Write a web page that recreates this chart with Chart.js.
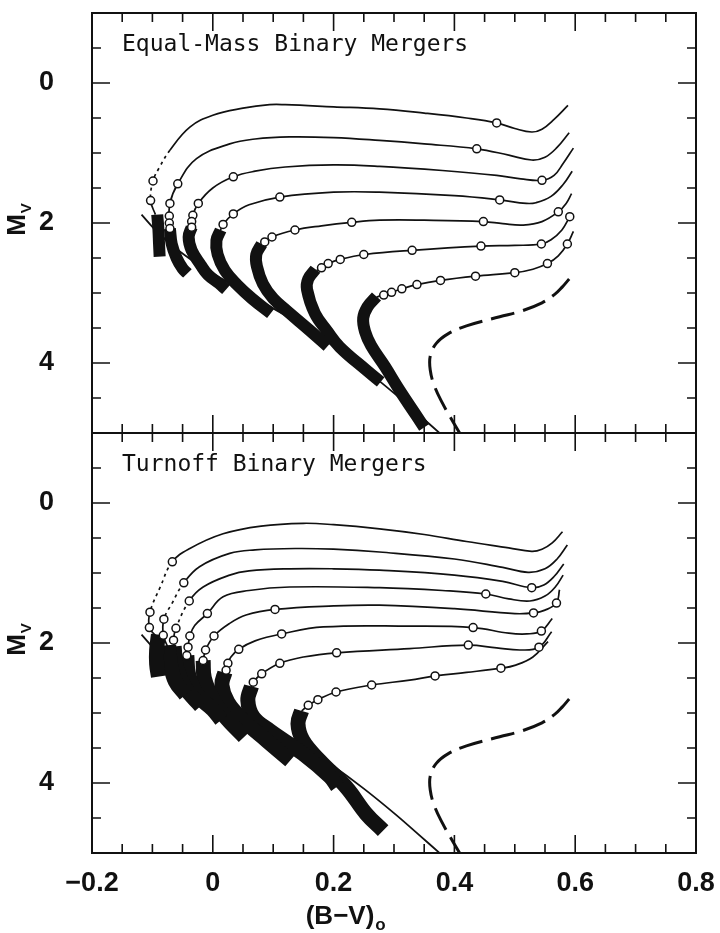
<!DOCTYPE html>
<html>
<head>
<meta charset="utf-8">
<script src="https://cdn.jsdelivr.net/npm/chart.js@4.4.0/dist/chart.umd.min.js"></script>
<style>
  html, body { margin: 0; padding: 0; background: #fff; }
  #wrap { position: relative; width: 720px; height: 933px; }
  canvas { position: absolute; left: 0; width: 720px; }
  #top { top: 0; height: 443px; }
  #bot { top: 423px; height: 510px; }
</style>
</head>
<body>
<div id="wrap">
  <canvas id="top" width="720" height="443"></canvas>
  <canvas id="bot" width="720" height="510"></canvas>
</div>
<script>
// axis ticks
const xTickValues = [-0.2, 0, 0.2, 0.4, 0.6, 0.8];
const yTickValues = [0, 2, 4];
const X_MINOR = 0.05;
const Y_MINOR = 0.5;

// [B-V, Mv] pairs
const isochrone = [[-0.118,1.88],[-0.095,2.1],[-0.07,2.3],[-0.04,2.5],[0.0,2.72],[0.05,2.97],[0.1,3.22],[0.15,3.47],[0.2,3.76],[0.25,4.08],[0.3,4.43],[0.34,4.73],[0.378,5.02]];
const turnoff = [[0.590,2.80],[0.578,2.92],[0.566,3.02],[0.545,3.14],[0.51,3.26],[0.475,3.34],[0.42,3.47],[0.39,3.58],[0.37,3.72],[0.36,3.9],[0.36,4.1],[0.367,4.33],[0.38,4.57],[0.395,4.8],[0.41,5.02]];

// equal-mass mergers: thin tracks, plotted models, dense (thick) parts
const eqLines = [
  [[0.588,0.32],[0.565,0.52],[0.545,0.66],[0.528,0.70],[0.50,0.65],[0.47,0.57],[0.42,0.50],[0.35,0.43],[0.276,0.37],[0.2,0.34],[0.12,0.31],[0.094,0.31],[0.05,0.36],[0.0,0.46],[-0.038,0.63],[-0.071,0.96],[-0.088,1.2],[-0.099,1.40],[-0.103,1.68],[-0.095,1.88]],
  [[0.590,0.71],[0.57,0.92],[0.55,1.06],[0.528,1.10],[0.49,1.03],[0.437,0.94],[0.35,0.87],[0.276,0.82],[0.2,0.78],[0.127,0.77],[0.07,0.8],[0.028,0.87],[-0.027,1.08],[-0.058,1.44],[-0.071,1.72],[-0.072,2.0],[-0.07,2.1]],
  [[0.597,0.93],[0.58,1.15],[0.565,1.32],[0.545,1.39],[0.51,1.37],[0.47,1.32],[0.38,1.25],[0.276,1.19],[0.2,1.17],[0.12,1.2],[0.07,1.26],[0.034,1.34],[0.0,1.5],[-0.024,1.72],[-0.033,1.89],[-0.035,2.08]],
  [[0.595,1.26],[0.58,1.45],[0.56,1.62],[0.535,1.71],[0.519,1.72],[0.475,1.67],[0.4,1.61],[0.276,1.56],[0.2,1.56],[0.111,1.63],[0.06,1.74],[0.034,1.87],[0.017,2.02],[0.012,2.12]],
  [[0.594,1.58],[0.585,1.72],[0.572,1.84],[0.545,1.98],[0.514,2.03],[0.48,2.01],[0.448,1.98],[0.35,1.96],[0.276,1.96],[0.23,1.99],[0.18,2.04],[0.136,2.10],[0.098,2.20],[0.083,2.29]],
  [[0.591,1.91],[0.578,2.1],[0.56,2.24],[0.544,2.30],[0.5,2.32],[0.444,2.33],[0.33,2.39],[0.252,2.45],[0.211,2.52],[0.191,2.58],[0.18,2.64],[0.172,2.68]],
  [[0.597,2.12],[0.587,2.30],[0.572,2.47],[0.554,2.58],[0.53,2.66],[0.5,2.71],[0.435,2.76],[0.377,2.82],[0.338,2.88],[0.313,2.94],[0.296,2.99],[0.281,3.03],[0.271,3.06]]
];
// sparsely sampled stretches (segment start indices), drawn dotted
const eqSparse = [[15, 16, 17], [], [], [], [], [], []];
const eqCircles = [
  [[0.47,0.57],[-0.099,1.40],[-0.103,1.68]],
  [[0.437,0.94],[-0.058,1.44],[-0.071,1.72],[-0.072,1.90],[-0.072,2.0],[-0.071,2.08]],
  [[0.545,1.39],[0.034,1.34],[-0.024,1.72],[-0.033,1.89],[-0.035,1.98],[-0.035,2.06]],
  [[0.475,1.67],[0.111,1.63],[0.034,1.87],[0.017,2.02]],
  [[0.572,1.84],[0.448,1.98],[0.230,1.99],[0.136,2.10],[0.098,2.20],[0.086,2.27]],
  [[0.591,1.91],[0.544,2.30],[0.444,2.33],[0.33,2.39],[0.25,2.45],[0.211,2.52],[0.191,2.58],[0.18,2.64]],
  [[0.587,2.30],[0.554,2.58],[0.5,2.71],[0.435,2.76],[0.377,2.82],[0.338,2.88],[0.313,2.94],[0.296,2.99],[0.283,3.03]]
];
const eqThick = [
  [[-0.092,1.88],[-0.09,2.1],[-0.089,2.3],[-0.088,2.48]],
  [[-0.071,2.08],[-0.068,2.3],[-0.06,2.5],[-0.05,2.65],[-0.042,2.72]],
  [[-0.035,2.06],[-0.04,2.2],[-0.035,2.39],[-0.02,2.6],[-0.008,2.74],[0.01,2.86],[0.022,2.95]],
  [[0.013,2.1],[0.006,2.25],[0.008,2.45],[0.02,2.68],[0.04,2.88],[0.065,3.08],[0.096,3.29]],
  [[0.081,2.3],[0.072,2.45],[0.073,2.62],[0.083,2.87],[0.1,3.08],[0.122,3.25],[0.16,3.53],[0.19,3.76]],
  [[0.17,2.66],[0.158,2.8],[0.156,2.95],[0.169,3.29],[0.19,3.55],[0.21,3.77],[0.254,4.1],[0.278,4.27]],
  [[0.271,3.05],[0.256,3.2],[0.249,3.36],[0.252,3.55],[0.262,3.75],[0.285,4.05],[0.31,4.4],[0.337,4.75],[0.35,4.92]]
];

// turnoff mergers
const toLines = [
  [[0.579,0.41],[0.562,0.57],[0.545,0.66],[0.528,0.69],[0.49,0.64],[0.42,0.55],[0.35,0.45],[0.276,0.37],[0.2,0.31],[0.15,0.29],[0.08,0.33],[0.017,0.44],[-0.038,0.65],[-0.067,0.84],[-0.087,1.2],[-0.104,1.56],[-0.105,1.78],[-0.094,1.9]],
  [[0.587,0.60],[0.57,0.8],[0.55,0.94],[0.522,0.99],[0.48,0.92],[0.4,0.8],[0.276,0.70],[0.2,0.66],[0.139,0.65],[0.07,0.67],[0.028,0.72],[-0.022,0.91],[-0.048,1.14],[-0.068,1.44],[-0.081,1.66],[-0.082,1.89],[-0.075,2.05]],
  [[0.581,0.87],[0.565,1.05],[0.548,1.17],[0.528,1.21],[0.48,1.12],[0.4,1.03],[0.276,0.96],[0.2,0.94],[0.127,0.94],[0.06,0.97],[0.028,1.03],[-0.016,1.2],[-0.039,1.40],[-0.061,1.79],[-0.065,1.96],[-0.063,2.08]],
  [[0.58,1.03],[0.567,1.2],[0.55,1.33],[0.525,1.4],[0.49,1.37],[0.452,1.30],[0.38,1.25],[0.276,1.21],[0.127,1.2],[0.06,1.25],[0.017,1.34],[-0.009,1.58],[-0.03,1.75],[-0.038,1.90],[-0.041,2.06],[-0.043,2.18]],
  [[0.574,1.24],[0.569,1.43],[0.55,1.53],[0.531,1.57],[0.5,1.58],[0.4,1.51],[0.276,1.46],[0.2,1.47],[0.103,1.52],[0.055,1.6],[0.028,1.72],[0.002,1.90],[-0.012,2.10],[-0.016,2.25]],
  [[0.562,1.65],[0.544,1.83],[0.52,1.87],[0.49,1.86],[0.431,1.78],[0.326,1.76],[0.183,1.77],[0.114,1.87],[0.07,1.97],[0.043,2.09],[0.03,2.2],[0.025,2.29],[0.022,2.39],[0.02,2.45]],
  [[0.561,1.84],[0.54,2.06],[0.51,2.1],[0.47,2.07],[0.423,2.03],[0.326,2.08],[0.205,2.14],[0.15,2.2],[0.111,2.29],[0.081,2.44],[0.067,2.56],[0.064,2.63]],
  [[0.555,1.98],[0.53,2.2],[0.5,2.32],[0.477,2.36],[0.42,2.42],[0.368,2.47],[0.326,2.53],[0.263,2.60],[0.204,2.70],[0.174,2.81],[0.158,2.89],[0.147,2.97]]
];
const toSparse = [[13, 14], [12, 13], [12], [], [], [], [], []];
const toCircles = [
  [[-0.067,0.84],[-0.104,1.56],[-0.105,1.78]],
  [[-0.048,1.14],[-0.081,1.66],[-0.082,1.89]],
  [[0.528,1.21],[-0.039,1.40],[-0.061,1.79],[-0.065,1.96]],
  [[0.452,1.30],[-0.009,1.58],[-0.038,1.90],[-0.041,2.06],[-0.043,2.18]],
  [[0.569,1.43],[0.531,1.57],[0.103,1.52],[0.002,1.90],[-0.012,2.10],[-0.016,2.25]],
  [[0.544,1.83],[0.431,1.78],[0.114,1.87],[0.043,2.09],[0.025,2.29],[0.022,2.39]],
  [[0.54,2.06],[0.423,2.03],[0.205,2.14],[0.111,2.29],[0.081,2.44],[0.067,2.56]],
  [[0.477,2.36],[0.368,2.47],[0.263,2.60],[0.204,2.70],[0.174,2.81],[0.158,2.89]]
];
const toThick = [
  [[-0.09,1.88],[-0.093,2.1],[-0.093,2.3],[-0.09,2.48]],
  [[-0.073,2.03],[-0.07,2.3],[-0.062,2.55],[-0.045,2.74]],
  [[-0.064,2.05],[-0.06,2.35],[-0.045,2.65],[-0.02,2.9]],
  [[-0.043,2.18],[-0.04,2.45],[-0.025,2.75],[0.0,2.95],[0.014,3.1]],
  [[-0.016,2.25],[-0.014,2.5],[0.0,2.8],[0.02,3.05],[0.052,3.34]],
  [[0.02,2.42],[0.015,2.6],[0.025,2.85],[0.05,3.1],[0.09,3.4],[0.128,3.68]],
  [[0.064,2.62],[0.058,2.82],[0.067,3.06],[0.094,3.25],[0.149,3.58],[0.194,3.91],[0.206,4.05]],
  [[0.147,2.97],[0.141,3.15],[0.149,3.39],[0.177,3.68],[0.221,4.06],[0.254,4.44],[0.282,4.68]]
];

const toXY = arr => arr.map(([x, y]) => ({ x, y }));

function buildDatasets(lines, sparse, circles, thick, thickWidth) {
  const line = { showLine: true, pointRadius: 0, borderColor: '#111', fill: false, tension: 0.4, clip: 0 };
  const ds = [
    { ...line, data: toXY(isochrone), borderWidth: 1.8, order: 3 },
    { ...line, data: toXY(turnoff), borderWidth: 3, borderDash: [24, 9], order: 3 }
  ];
  lines.forEach((l, k) => ds.push({
    ...line, data: toXY(l), borderWidth: 1.7, order: 2,
    segment: { borderDash: c => sparse[k].includes(c.p0DataIndex) ? [3, 4] : undefined }
  }));
  thick.forEach(t => ds.push({ ...line, data: toXY(t), borderWidth: thickWidth, borderCapStyle: 'butt', borderJoinStyle: 'round', order: 1 }));
  ds.push({
    data: toXY(circles.flat()), showLine: false, order: 0,
    pointRadius: 4, pointBackgroundColor: '#fff', pointBorderColor: '#111', pointBorderWidth: 1.5
  });
  return ds;
}

// frame, inward ticks, panel title and Mv label
const frameTicks = {
  id: 'frameTicks',
  afterDraw(chart, args, opts) {
    const { ctx, chartArea: a } = chart;
    const xs = chart.scales.x, ys = chart.scales.y;
    ctx.save();
    ctx.strokeStyle = '#111';
    ctx.lineWidth = 2;
    ctx.strokeRect(a.left, a.top, a.right - a.left, a.bottom - a.top);
    ctx.lineWidth = 1.6;
    ctx.beginPath();
    for (let i = -3; i <= 15; i++) {
      const px = xs.getPixelForValue(i * X_MINOR);
      const len = i % 4 === 0 ? 18 : 9;
      ctx.moveTo(px, a.top); ctx.lineTo(px, a.top + len);
      ctx.moveTo(px, a.bottom); ctx.lineTo(px, a.bottom - len);
    }
    for (let j = -1; j <= 9; j++) {
      const py = ys.getPixelForValue(j * Y_MINOR);
      const len = j % 4 === 0 ? 18 : 9;
      ctx.moveTo(a.left, py); ctx.lineTo(a.left + len, py);
      ctx.moveTo(a.right, py); ctx.lineTo(a.right - len, py);
    }
    ctx.stroke();

    ctx.fillStyle = '#111';
    ctx.font = '23px "DejaVu Sans Mono"';
    ctx.textBaseline = 'middle';
    ctx.textAlign = 'left';
    ctx.fillText(opts.title, a.left + 30, a.top + 32);

    ctx.translate(25, (a.top + a.bottom) / 2 - 2);
    ctx.rotate(-Math.PI / 2);
    ctx.textBaseline = 'alphabetic';
    ctx.font = 'bold 26px "Liberation Sans"';
    const mw = ctx.measureText('M').width;
    ctx.fillText('M', -mw / 2 - 4, 0);
    ctx.font = 'bold 15px "Liberation Sans"';
    ctx.fillText('V', mw / 2 - 3, 6);
    ctx.restore();
  }
};

// (B-V)0 title under the lower panel
const xTitle = {
  id: 'xTitle',
  afterDraw(chart) {
    const ctx = chart.ctx;
    ctx.save();
    ctx.fillStyle = '#111';
    ctx.textBaseline = 'alphabetic';
    ctx.font = 'bold 26px "Liberation Sans"';
    const main = '(B\u2212V)';
    const w = ctx.measureText(main).width;
    const x0 = 345 - w / 2 - 5;
    ctx.fillText(main, x0, 501);
    ctx.font = 'bold 17px "Liberation Sans"';
    ctx.fillText('o', x0 + w + 1, 507);
    ctx.restore();
  }
};

const fmtX = v => (v < 0 ? '\u2212' : '') + String(Math.round(Math.abs(v) * 10) / 10);

function makeChart(id, lines, sparse, circles, thick, thickWidth, title, showX) {
  return new Chart(document.getElementById(id), {
    type: 'scatter',
    data: { datasets: buildDatasets(lines, sparse, circles, thick, thickWidth) },
    options: {
      responsive: false,
      maintainAspectRatio: false,
      animation: false,
      devicePixelRatio: 1,
      events: [],
      layout: { padding: showX ? { top: 10, right: 24, bottom: 0, left: 0 } : { top: 13, right: 24, bottom: 10, left: 0 } },
      plugins: { legend: { display: false }, tooltip: { enabled: false }, frameTicks: { title } },
      scales: {
        x: {
          type: 'linear', min: -0.2, max: 0.8, display: showX,
          afterBuildTicks: s => { s.ticks = xTickValues.map(v => ({ value: v })); },
          afterFit: s => {
            if (showX) s.height = 80;
            s.paddingLeft = 0; s.paddingRight = 0;
          },
          grid: { display: false, drawTicks: false }, border: { display: false },
          ticks: { color: '#111', padding: 14, maxRotation: 0, font: { family: 'Liberation Sans', size: 27, weight: 'bold' }, callback: v => fmtX(v) }
        },
        y: {
          type: 'linear', min: -1, max: 5, reverse: true,
          afterBuildTicks: s => { s.ticks = yTickValues.map(v => ({ value: v })); },
          afterFit: s => { s.width = 92; s.paddingTop = 0; s.paddingBottom = 0; },
          grid: { display: false, drawTicks: false }, border: { display: false },
          ticks: { color: '#111', padding: 38, font: { family: 'Liberation Sans', size: 27, weight: 'bold' } }
        }
      }
    },
    plugins: showX ? [frameTicks, xTitle] : [frameTicks]
  });
}

makeChart('top', eqLines, eqSparse, eqCircles, eqThick, 12, 'Equal-Mass Binary Mergers', false);
makeChart('bot', toLines, toSparse, toCircles, toThick, 15, 'Turnoff Binary Mergers', true);
</script>
</body>
</html>
